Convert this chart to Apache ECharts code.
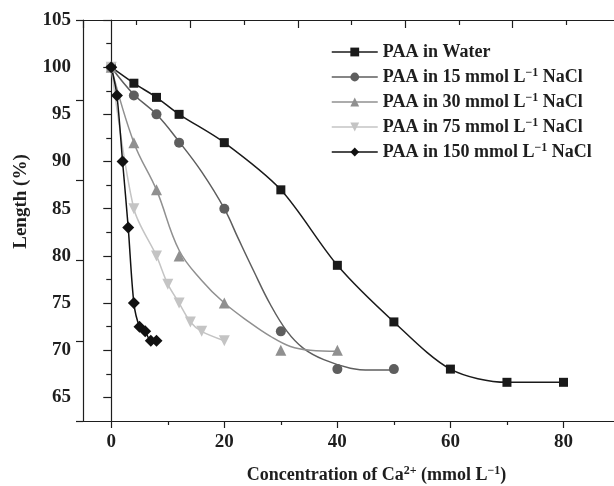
<!DOCTYPE html>
<html>
<head>
<meta charset="utf-8">
<script src="https://cdn.jsdelivr.net/npm/echarts@6/dist/echarts.min.js"></script>
<style>
  html, body { margin: 0; padding: 0; background: #fff; }
  #chart { width: 614px; height: 486px; }
</style>
</head>
<body>
<div id="chart"></div>
<script>
const water = [[0, 100], [4, 98.3], [8, 96.8], [12, 95], [20, 92], [30, 87], [40, 79], [50, 73], [60, 68], [70, 66.6], [80, 66.6]];
const nacl15 = [[0, 100], [4, 97], [8, 95], [12, 92], [20, 85], [30, 72], [40, 68], [50, 68]];
const nacl30 = [[0, 100], [4, 92], [8, 87], [12, 80], [20, 75], [30, 70], [40, 70]];
const nacl75 = [[0, 100], [4, 85], [8, 80], [10, 77], [12, 75], [14, 73], [16, 72], [20, 71]];
const nacl150 = [[0, 100], [1, 97], [2, 90], [3, 83], [4, 75], [5, 72.5], [6, 72], [7, 71], [8, 71]];

// fitted curves for 15 and 30 mmol (they miss some points)
const fit15 = [[0, 100], [4, 97.1], [8, 95], [12, 92.1], [16, 88.9], [20, 85], [22.5, 81.8], [25.2, 78.4], [28.1, 74.9], [31.1, 72], [34, 70.2], [37.6, 69], [42.3, 68.1], [46, 67.9], [50, 67.9]];
const fit30 = [[0, 100], [4, 92], [8, 87], [12, 80.6], [16, 77.4], [20, 75], [24.6, 72.9], [28.1, 71.5], [31.7, 70.4], [35.2, 70], [40, 69.9]];

const seriesNames = [
  "PAA in Water",
  "PAA in 15 mmol L-1 NaCl",
  "PAA in 30 mmol L-1 NaCl",
  "PAA in 75 mmol L-1 NaCl",
  "PAA in 150 mmol L-1 NaCl",
];
const xMajorTicks = [0, 20, 40, 60, 80];
const xMinorTicks = [10, 30, 50, 70];
const yMajorTicks = [65, 70, 75, 80, 85, 90, 95, 100, 105];
const yMinorTicks = [67.5, 72.5, 77.5, 82.5, 87.5, 92.5, 97.5, 102.5];

const font = "'Liberation Serif', 'Times New Roman', serif";
const ink = "#1e1e1e";
const supStyle = { fontFamily: font, fontWeight: "bold", fontSize: 12, color: ink, padding: [0, 0, 8, 0] };

const chart = echarts.init(document.getElementById("chart"));

function mkSeries(name, data, color, symbol, size, rotate, lineWidth) {
  return {
    name,
    type: "line",
    data,
    smooth: 0.3,
    symbol,
    symbolSize: size,
    symbolRotate: rotate || 0,
    lineStyle: { color, width: lineWidth },
    itemStyle: { color },
    z: 4,
  };
}

function mkFit(name, data, color) {
  return {
    name,
    type: "line",
    data,
    smooth: 0.4,
    symbol: "none",
    silent: true,
    lineStyle: { color, width: 1.5 },
    z: 3,
  };
}

chart.setOption({
  animation: false,
  backgroundColor: "#fff",
  grid: { left: 83, top: 20, right: -6, bottom: 65, outerBoundsMode: "none" },
  legend: {
    orient: "vertical",
    left: 331,
    top: 43,
    padding: 0,
    itemWidth: 46,
    itemHeight: 11,
    itemGap: 6,
    data: seriesNames,
    lineStyle: { width: 1.5 },
    formatter: (n) => {
      const m = n.match(/^(.*) L-1 (NaCl)$/);
      if (!m) return "{a|" + n + "}";
      return "{a|" + m[1] + " L}{sup|\u22121}{a| " + m[2] + "}";
    },
    textStyle: {
      fontFamily: font,
      fontWeight: "bold",
      fontSize: 18,
      color: ink,
      rich: {
        a: { fontFamily: font, fontWeight: "bold", fontSize: 18, color: ink },
        sup: supStyle,
      },
    },
  },
  xAxis: [
    {
      type: "value",
      min: -5,
      max: 90,
      position: "bottom",
      splitLine: { show: false },
      axisLine: { lineStyle: { color: ink, width: 1.2 } },
      axisTick: { customValues: xMajorTicks, length: 7, lineStyle: { color: ink, width: 1.2 } },
      axisLabel: {
        customValues: xMajorTicks,
        margin: 12,
        fontFamily: font,
        fontWeight: "bold",
        fontSize: 19,
        color: ink,
      },
      name: "{a|Concentration of Ca}{sup|2+}{a| (mmol L}{sup|\u22121}{a|)}",
      nameLocation: "middle",
      nameGap: 44,
      nameTextStyle: {
        padding: [0, 0, 0, 50],
        rich: {
          a: { fontFamily: font, fontWeight: "bold", fontSize: 18, color: ink },
          sup: supStyle,
        },
      },
    },
    {
      // minor ticks of the bottom axis
      type: "value",
      min: -5,
      max: 90,
      position: "bottom",
      splitLine: { show: false },
      axisLine: { show: false },
      axisTick: { customValues: xMinorTicks, length: 4, lineStyle: { color: ink, width: 1.2 } },
      axisLabel: { show: false },
    },
    {
      // mirrored frame axis on top
      type: "value",
      min: 0,
      max: 10,
      interval: 2,
      position: "top",
      splitLine: { show: false },
      axisLine: { lineStyle: { color: ink, width: 1.2 } },
      axisTick: { inside: true, length: 8, lineStyle: { color: ink, width: 1.2 } },
      minorTick: { show: true, splitNumber: 2, length: 5, lineStyle: { color: ink, width: 1.2 } },
      axisLabel: { show: false },
    },
  ],
  yAxis: [
    {
      type: "value",
      min: 62.5,
      max: 105,
      position: "left",
      splitLine: { show: false },
      axisLine: { show: true, lineStyle: { color: ink, width: 1.2 } },
      axisTick: { show: true, customValues: yMajorTicks, length: 8, lineStyle: { color: ink, width: 1.2 } },
      axisLabel: {
        customValues: yMajorTicks,
        margin: 12,
        fontFamily: font,
        fontWeight: "bold",
        fontSize: 19,
        color: ink,
      },
      name: "Length (%)",
      nameLocation: "middle",
      nameGap: 52,
      nameTextStyle: {
        fontFamily: font,
        fontWeight: "bold",
        fontSize: 19,
        color: ink,
        padding: [0, 0, 0, 38],
      },
    },
    {
      // minor ticks of the left axis
      type: "value",
      min: 62.5,
      max: 105,
      position: "left",
      splitLine: { show: false },
      axisLine: { show: false },
      axisTick: { show: true, customValues: yMinorTicks, length: 5, lineStyle: { color: ink, width: 1.2 } },
      axisLabel: { show: false },
    },
    {
      // mirrored frame axis on the right
      type: "value",
      min: 0,
      max: 5,
      interval: 1,
      position: "right",
      splitLine: { show: false },
      axisLine: { show: true, lineStyle: { color: ink, width: 1.2 } },
      axisTick: { show: true, inside: true, length: 7, lineStyle: { color: ink, width: 1.2 } },
      axisLabel: { show: false },
    },
  ],
  series: [
    mkFit("fit 15", fit15, "#5e5e5e"),
    mkFit("fit 30", fit30, "#909090"),
    mkSeries(seriesNames[0], water, "#1a1a1a", "rect", 9, 0, 1.5),
    mkSeries(seriesNames[1], nacl15, "#5e5e5e", "circle", 10, 0, 0),
    mkSeries(seriesNames[2], nacl30, "#909090", "triangle", 11, 0, 0),
    mkSeries(seriesNames[3], nacl75, "#c4c4c4", "triangle", 11, 180, 1.5),
    mkSeries(seriesNames[4], nacl150, "#111111", "diamond", 12, 0, 1.5),
  ],
});
</script>
</body>
</html>
